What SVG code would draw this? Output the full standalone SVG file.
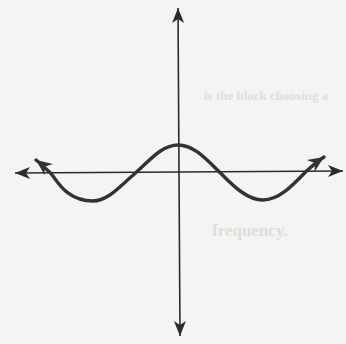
<svg xmlns="http://www.w3.org/2000/svg" width="346" height="344" viewBox="0 0 346 344">
  <style>
    .axis { fill: none; stroke: #2b2b2b; stroke-width: 1.6; }
    .curve { fill: none; stroke: #333; stroke-width: 3.4; stroke-linecap: round; }
    .ghost { font-family: "Liberation Serif", serif; font-weight: bold; fill: #dededc; }
  </style>
  <defs>
    <marker id="ax" markerUnits="userSpaceOnUse" viewBox="-16 -7 17 14" refX="0" refY="0" markerWidth="17" markerHeight="14" orient="auto-start-reverse">
      <path d="M0,0 L-15,-6 L-11,0 L-15,6 Z" fill="#2b2b2b"/>
    </marker>
    <marker id="cv" markerUnits="userSpaceOnUse" viewBox="-17 -8 18 16" refX="0" refY="0" markerWidth="18" markerHeight="16" orient="auto-start-reverse">
      <path d="M0,0 L-16,-7 L-11,0 L-16,7 Z" fill="#333"/>
    </marker>
  </defs>
  <rect width="346" height="344" fill="#f4f4f2"/>
  <g id="ghost-text">
    <text class="ghost" x="204" y="100" font-size="13">is the block choosing a</text>
    <text class="ghost" x="212" y="236" font-size="17">frequency.</text>
  </g>
  <g id="connectors">
    <path id="y-axis" class="axis" d="M178,8 L180,336" marker-start="url(#ax)" marker-end="url(#ax)"/>
    <path id="x-axis" class="axis" d="M15,173 L343,171" marker-start="url(#ax)" marker-end="url(#ax)"/>
  </g>
  <g id="curve">
    <path class="curve" marker-start="url(#cv)" marker-end="url(#cv)" d="M36,160 C40,163 45,168 50.5,173 C57,180 66,201 93,201 C108,201 120,186 135.5,173 C150,160 162,145 178,145 C194,145 206,159 220.5,173 C234,187 248,200 263,200 C279,200 292,186 305.5,172 C312,166 318,161 324,157"/>
  </g>
</svg>
